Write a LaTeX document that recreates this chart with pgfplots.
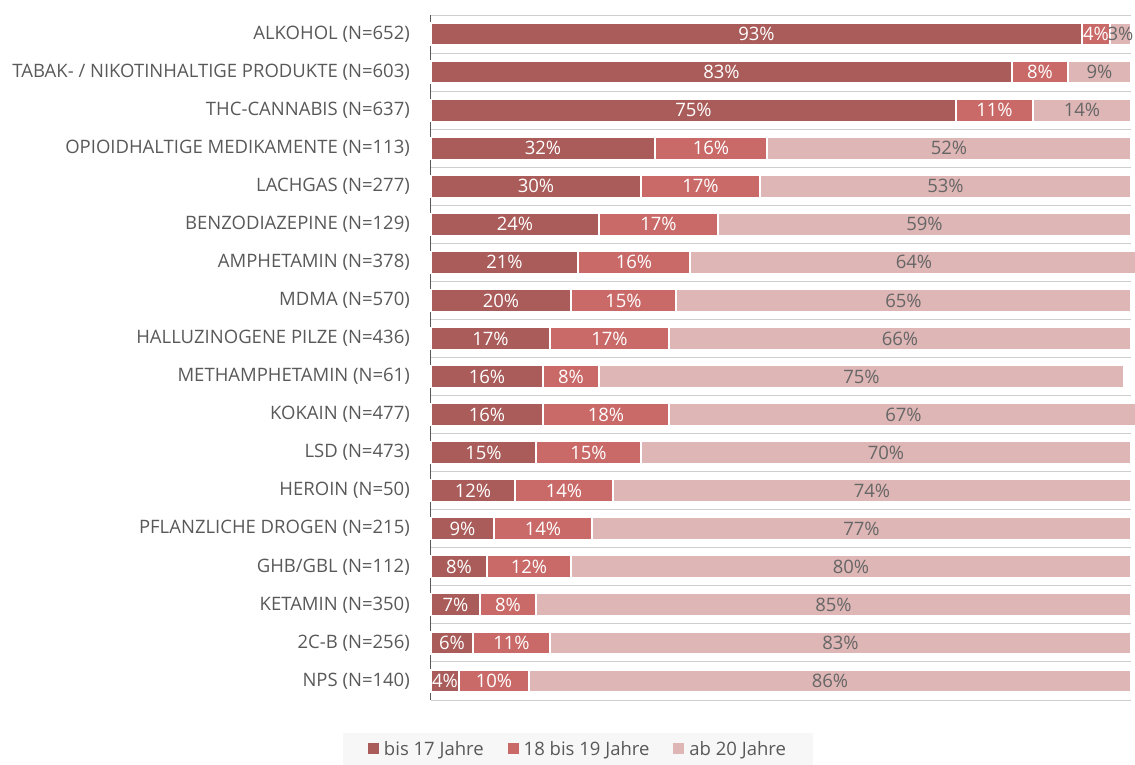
\documentclass[border=0pt]{standalone}
\usepackage{fontspec}
\setmainfont{Open Sans}
\usepackage{pgfplots}
\pgfplotsset{compat=1.18}
\usepackage{pgfplotstable}

\definecolor{c1}{HTML}{A95C59}
\definecolor{c2}{HTML}{C96A68}
\definecolor{c3}{HTML}{DFB6B6}
\definecolor{tickgray}{HTML}{595959}
\definecolor{lblgray}{HTML}{666666}
\definecolor{gridgray}{HTML}{CFCFCF}
\definecolor{leggray}{HTML}{F7F7F7}

\pgfplotstableread{
idx a b c
0 93 4 3
1 83 8 9
2 75 11 14
3 32 16 52
4 30 17 53
5 24 17 59
6 21 16 64
7 20 15 65
8 17 17 66
9 16 8 75
10 16 18 67
11 15 15 70
12 12 14 74
13 9 14 77
14 8 12 80
15 7 8 85
16 6 11 83
17 4 10 86
}\data

\begin{document}
\begin{tikzpicture}
\begin{axis}[
  at={(0,0)}, anchor=south west,
  width=700pt, height=685pt, scale only axis,
  xmin=0, xmax=100, ymin=-0.5, ymax=17.5, y dir=reverse,
  clip=false,
  axis x line=none,
  axis y line*=left,
  y axis line style={tickgray, line width=1pt, -},
  ytick={0,...,17},
  yticklabels={{ALKOHOL (N=652)},{TABAK- / NIKOTINHALTIGE PRODUKTE (N=603)},{THC-CANNABIS (N=637)},{OPIOIDHALTIGE MEDIKAMENTE (N=113)},{LACHGAS (N=277)},{BENZODIAZEPINE (N=129)},{AMPHETAMIN (N=378)},{MDMA (N=570)},{HALLUZINOGENE PILZE (N=436)},{METHAMPHETAMIN (N=61)},{KOKAIN (N=477)},{LSD (N=473)},{HEROIN (N=50)},{PFLANZLICHE DROGEN (N=215)},{GHB/GBL (N=112)},{KETAMIN (N=350)},{2C-B (N=256)},{NPS (N=140)}},
  major tick length=0pt,
  minor ytick={-0.5,0.5,...,17.5},
  yminorgrids,
  minor tick length=0pt,
  minor grid style={gridgray, line width=1pt},
  yticklabel style={font=\fontsize{18.5}{22}\selectfont, text=tickgray, inner sep=0pt},
  yticklabel shift=21pt,
  legend image code/.code={\fill[#1] (0pt,-5.5pt) rectangle (11pt,5.5pt);},
  legend style={at={(0.21,-0.0715)}, anchor=center, legend columns=3,
    fill=leggray, draw=none, font=\fontsize{18.5}{22}\selectfont, text=tickgray,
    inner xsep=25pt, inner ysep=6pt,
    /tikz/every odd column/.append style={column sep=3pt},
    /tikz/every even column/.append style={column sep=22pt}},
  barstyle/.style={xbar, bar width=22pt, bar shift=0pt, draw=white, line width=1.2pt, forget plot},
  lbl/.style={only marks, mark=none, forget plot, point meta=explicit symbolic,
    nodes near coords={\pgfplotspointmeta\%},
    every node near coord/.style={anchor=center, font=\fontsize{18.5}{22}\selectfont, inner sep=0pt}},
]
\addlegendimage{fill=c1, draw=none}\addlegendentry{bis 17 Jahre}
\addlegendimage{fill=c2, draw=none}\addlegendentry{18 bis 19 Jahre}
\addlegendimage{fill=c3, draw=none}\addlegendentry{ab 20 Jahre}

\addplot[barstyle, fill=c3] table[x expr=\thisrow{a}+\thisrow{b}+\thisrow{c}, y=idx]{\data};
\addplot[barstyle, fill=c2] table[x expr=\thisrow{a}+\thisrow{b}, y=idx]{\data};
\addplot[barstyle, fill=c1] table[x=a, y=idx]{\data};

\addplot[lbl, nodes near coords style={text=white}] table[x expr=\thisrow{a}/2, y=idx, meta=a]{\data};
\addplot[lbl, nodes near coords style={text=white}] table[x expr=\thisrow{a}+\thisrow{b}/2, y=idx, meta=b]{\data};
\addplot[lbl, nodes near coords style={text=lblgray}] table[x expr=\thisrow{a}+\thisrow{b}+\thisrow{c}/2, y=idx, meta=c]{\data};
\end{axis}
\pgfresetboundingbox
\path (current axis.south west) ++(-431pt,-65pt) rectangle ++(1135pt,765pt);
\end{tikzpicture}
\end{document}
